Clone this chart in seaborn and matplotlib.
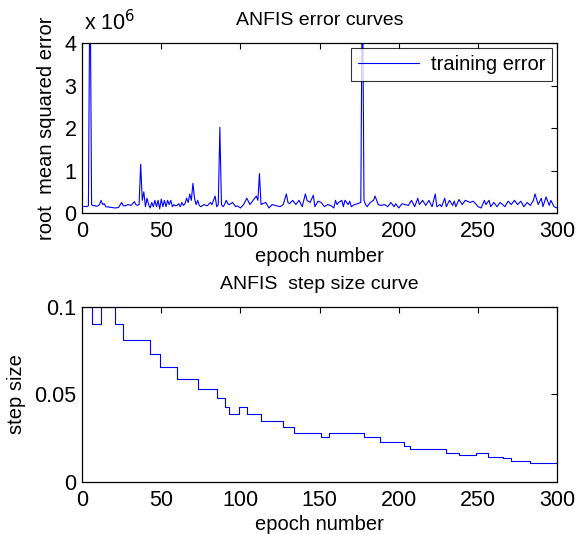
import numpy as np
import matplotlib
matplotlib.use('Agg')
import matplotlib.pyplot as plt
import seaborn as sns

# training error (units of 1e6)
err_epoch = [1, 2, 3, 4, 5, 6, 7, 8, 9, 10, 11, 12, 13, 14, 15, 17, 19, 21, 23, 25, 26, 27, 29, 31,
             33, 34, 35, 36, 37, 38, 39, 40, 41, 42, 43, 44, 45, 46, 47, 48, 49, 50, 51, 52, 53,
             54, 55, 56, 57, 58, 59, 60, 61, 62, 63, 64, 65, 66, 67, 68, 69, 70, 71, 72, 73, 74,
             75, 77, 79, 81, 82, 84, 85, 86, 87, 88, 89, 90, 91, 92, 93, 95, 97, 98, 100, 102,
             104, 106, 108, 110, 111, 112, 113, 114, 116, 118, 120, 122, 125, 127, 129, 130, 131,
             133, 135, 137, 139, 141, 142, 144, 146, 147, 149, 151, 153, 155, 157, 159, 160, 161,
             162, 164, 165, 166, 168, 169, 170, 172, 174, 176, 177, 178, 179, 180, 182, 184, 185,
             187, 189, 191, 193, 195, 197, 198, 200, 202, 204, 206, 208, 210, 212, 213, 215, 217,
             219, 221, 223, 224, 226, 227, 229, 230, 232, 234, 235, 236, 238, 240, 242, 245, 247,
             249, 250, 252, 254, 255, 257, 258, 260, 262, 264, 267, 269, 271, 273, 275, 277, 279,
             281, 283, 285, 286, 288, 290, 291, 293, 295, 296, 298, 300]
err_value = [0.15, 0.16, 0.15, 0.17, 6.0, 0.2, 0.17, 0.18, 0.16, 0.17, 0.2, 0.3, 0.2, 0.22, 0.15,
             0.14, 0.13, 0.12, 0.13, 0.25, 0.17, 0.17, 0.2, 0.18, 0.27, 0.2, 0.18, 0.2, 1.15, 0.3,
             0.5, 0.15, 0.35, 0.2, 0.12, 0.25, 0.15, 0.3, 0.15, 0.3, 0.1, 0.33, 0.15, 0.3, 0.15,
             0.3, 0.2, 0.3, 0.15, 0.2, 0.17, 0.18, 0.22, 0.15, 0.25, 0.18, 0.22, 0.35, 0.25, 0.45,
             0.3, 0.7, 0.35, 0.2, 0.3, 0.18, 0.15, 0.2, 0.17, 0.25, 0.2, 0.4, 0.15, 0.2, 2.02, 0.2,
             0.15, 0.2, 0.3, 0.22, 0.2, 0.25, 0.15, 0.17, 0.12, 0.2, 0.35, 0.2, 0.3, 0.4, 0.3, 0.93,
             0.2, 0.22, 0.25, 0.12, 0.2, 0.18, 0.15, 0.2, 0.45, 0.25, 0.22, 0.3, 0.2, 0.3, 0.15,
             0.45, 0.3, 0.25, 0.42, 0.15, 0.28, 0.25, 0.15, 0.2, 0.18, 0.12, 0.3, 0.2, 0.25, 0.3,
             0.15, 0.3, 0.2, 0.28, 0.15, 0.2, 0.22, 0.25, 6.0, 0.3, 0.2, 0.15, 0.25, 0.3, 0.4, 0.2,
             0.18, 0.2, 0.15, 0.25, 0.15, 0.22, 0.12, 0.22, 0.2, 0.18, 0.3, 0.15, 0.35, 0.2, 0.3,
             0.18, 0.3, 0.15, 0.45, 0.15, 0.2, 0.15, 0.35, 0.15, 0.3, 0.18, 0.28, 0.15, 0.32, 0.2,
             0.3, 0.25, 0.28, 0.2, 0.15, 0.12, 0.3, 0.2, 0.3, 0.15, 0.25, 0.15, 0.25, 0.15, 0.28,
             0.2, 0.3, 0.2, 0.28, 0.15, 0.25, 0.18, 0.3, 0.45, 0.2, 0.35, 0.15, 0.38, 0.18, 0.3,
             0.15, 0.12]

# step size: epoch where each level starts, and the level
step_epoch = [1, 6, 12, 21, 26, 43, 49, 60, 73, 85, 90, 93, 99, 104, 113, 127, 134, 151, 156,
              178, 188, 203, 207, 230, 238, 249, 256, 266, 271, 283, 300]
step_value = [0.1, 0.09, 0.1, 0.09, 0.081, 0.0729, 0.0656, 0.059, 0.0531, 0.0478, 0.043,
              0.0387, 0.043, 0.0387, 0.0348, 0.0313, 0.0282, 0.0254, 0.0282, 0.0254, 0.0228,
              0.0208, 0.0187, 0.0166, 0.0154, 0.0164, 0.0145, 0.0135, 0.012, 0.011, 0.011]

x_ticks = [0, 50, 100, 150, 200, 250, 300]
err_ticks = [0, 1, 2, 3, 4]
step_ticks = [0, 0.05, 0.1]
step_ticklabels = ['0', '0.05', '0.1']

sns.set_theme(style='white')
plt.rcParams['font.family'] = ['Liberation Sans', 'DejaVu Sans']
plt.rcParams['axes.edgecolor'] = 'black'
plt.rcParams['axes.linewidth'] = 0.9
plt.rcParams['text.color'] = 'black'
plt.rcParams['axes.labelcolor'] = 'black'
plt.rcParams['axes.titlecolor'] = 'black'

tick_fs = 15.5
lab_fs = 14.5
title_fs = 14
fig = plt.figure(figsize=(5.78, 5.34), dpi=100)
ax1 = fig.add_axes([0.142, 0.601, 0.822, 0.318])
ax2 = fig.add_axes([0.142, 0.0974, 0.822, 0.328])

sns.lineplot(x=err_epoch, y=err_value, ax=ax1, color='#0000ff', linewidth=0.8,
             label='training error')
sns.lineplot(x=step_epoch, y=step_value, ax=ax2, color='#0000ff', linewidth=0.8,
             drawstyle='steps-post')

for ax in (ax1, ax2):
    ax.set_xlim(0, 300)
    ax.set_xticks(x_ticks)
    ax.tick_params(direction='in', top=True, right=True, length=4, width=0.8,
                   labelsize=tick_fs, colors='black')
    ax.tick_params(axis='x', pad=6)
    ax.tick_params(axis='y', pad=4)
    ax.set_xlabel('epoch number', fontsize=lab_fs, labelpad=3, color='black')
    for s in ax.spines.values():
        s.set_color('black')

ax1.set_ylim(0, 4)
ax1.set_yticks(err_ticks)
ax1.set_ylabel('root  mean squared error', fontsize=lab_fs, labelpad=6, color='black')
ax1.set_title('ANFIS error curves', fontsize=title_fs, pad=13, color='black')
ax1.text(0.005, 1.05, r'x 10$^6$', transform=ax1.transAxes, fontsize=tick_fs,
         ha='left', va='bottom', color='black')
leg = ax1.legend(loc='upper right', fontsize=lab_fs, frameon=True, fancybox=False,
                 borderaxespad=0.25, handlelength=3.0, borderpad=0.35, handletextpad=0.6)
leg.get_frame().set_edgecolor('black')
leg.get_frame().set_linewidth(0.8)
for t in leg.get_texts():
    t.set_color('black')

ax2.set_ylim(0, 0.1)
ax2.set_yticks(step_ticks)
ax2.set_yticklabels(step_ticklabels)
ax2.set_ylabel('step size', fontsize=lab_fs, labelpad=6, color='black')
ax2.set_title('ANFIS  step size curve', fontsize=title_fs, pad=13, color='black')

fig.savefig('out.png', dpi=100, facecolor='white')
